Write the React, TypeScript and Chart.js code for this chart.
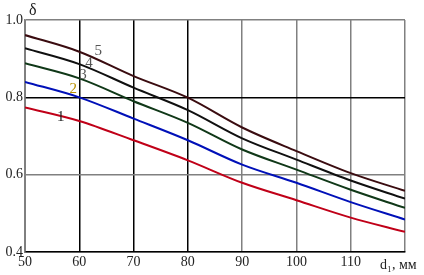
import React, { useEffect, useRef } from "react";
import { Chart, registerables } from "chart.js";

Chart.register(...registerables);

const xValues = [50, 60, 70, 80, 90, 100, 110, 120];
const series1 = [0.774, 0.739, 0.689, 0.637, 0.579, 0.534, 0.489, 0.452];
const series2 = [0.84, 0.80, 0.745, 0.689, 0.626, 0.579, 0.529, 0.484];
const series3 = [0.888, 0.849, 0.790, 0.734, 0.665, 0.613, 0.561, 0.514];
const series4 = [0.927, 0.886, 0.825, 0.767, 0.694, 0.639, 0.585, 0.538];
const series5 = [0.961, 0.918, 0.855, 0.799, 0.722, 0.661, 0.604, 0.558];
const seriesNames = ["1", "2", "3", "4", "5"];
const seriesColors = ["#c00018", "#0010b8", "#103818", "#101010", "#3a0c10"];
// label anchor points (data coordinates)
const labelX = [56.6, 58.9, 60.7, 61.8, 63.5];
const labelY = [0.749, 0.821, 0.858, 0.889, 0.92];
const labelColors = ["#222222", "#b89000", "#555555", "#555555", "#555555"];
const yTicks = [0.4, 0.6, 0.8, 1.0];
const yAxisTitle = "δ";
const xAxisTitle = "d₁, мм";

export default function App() {
  const ref = useRef<HTMLCanvasElement>(null);
  useEffect(() => {
    document.body.style.margin = "0";
    const all = [series1, series2, series3, series4, series5];
    const labelPlugin = {
      id: "labels",
      afterDraw(chart: any) {
        const ctx = chart.ctx;
        const xs = chart.scales.x;
        const ys = chart.scales.y;
        ctx.save();
        ctx.font = "15px 'Liberation Serif'";
        ctx.textAlign = "center";
        ctx.textBaseline = "middle";
        seriesNames.forEach((n, i) => {
          ctx.fillStyle = labelColors[i];
          ctx.fillText(n, xs.getPixelForValue(labelX[i]), ys.getPixelForValue(labelY[i]));
        });
        ctx.fillStyle = "#222";
        ctx.font = "16px 'Liberation Serif'";
        ctx.textAlign = "left";
        ctx.fillText(yAxisTitle, chart.chartArea.left + 4, chart.chartArea.top - 9);
        ctx.font = "14px 'Liberation Serif'";
        ctx.fillText(xAxisTitle, chart.chartArea.right - 25, chart.chartArea.bottom + 13);
        ctx.restore();
      },
    };
    const chart = new Chart(ref.current!, {
      type: "line",
      data: {
        datasets: all.map((s, i) => ({
          label: seriesNames[i],
          data: s.map((v, j) => ({ x: xValues[j], y: v })),
          borderColor: seriesColors[i],
          borderWidth: 2,
          pointRadius: 0,
          cubicInterpolationMode: "monotone" as const,
          fill: false,
        })),
      },
      options: {
        animation: false,
        responsive: false,
        layout: { padding: { top: 20, right: 19, left: 0, bottom: 0 } },
        plugins: { legend: { display: false }, tooltip: { enabled: false } },
        scales: {
          x: {
            type: "linear",
            min: 50,
            max: 120,
            afterBuildTicks: (s: any) => {
              s.ticks = xValues.map((v) => ({ value: v }));
            },
            afterFit: (s: any) => {
              s.height = 23;
            },
            ticks: {
              color: "#222",
              font: { family: "'Liberation Serif'", size: 14 },
              padding: 2,
              maxRotation: 0,
              callback: (v: any) => (v === 120 ? "" : String(v)),
            },
            grid: {
              drawTicks: false,
              lineWidth: 1.5,
              color: (c: any) => (c.tick && c.tick.value <= 80 ? "#000" : "#808080"),
            },
            border: { color: "#000", width: 1.5 },
          },
          y: {
            min: 0.4,
            max: 1.0,
            afterBuildTicks: (s: any) => {
              s.ticks = yTicks.map((v) => ({ value: v }));
            },
            afterFit: (s: any) => {
              s.width = 25;
            },
            ticks: {
              color: "#222",
              font: { family: "'Liberation Serif'", size: 14 },
              padding: 2,
              callback: (v: any) => Number(v).toFixed(1),
            },
            grid: {
              drawTicks: false,
              lineWidth: 1.5,
              color: (c: any) => (c.tick && Math.abs(c.tick.value - 0.8) < 1e-6 ? "#000" : "#808080"),
            },
            border: { color: "#808080", width: 1.5 },
          },
        },
      },
      plugins: [labelPlugin],
    });
    return () => chart.destroy();
  }, []);
  return (
    <div style={{ position: "absolute", left: 0, top: 0, width: 424, height: 275, background: "#fff" }}>
      <canvas ref={ref} width={424} height={275} />
    </div>
  );
}
